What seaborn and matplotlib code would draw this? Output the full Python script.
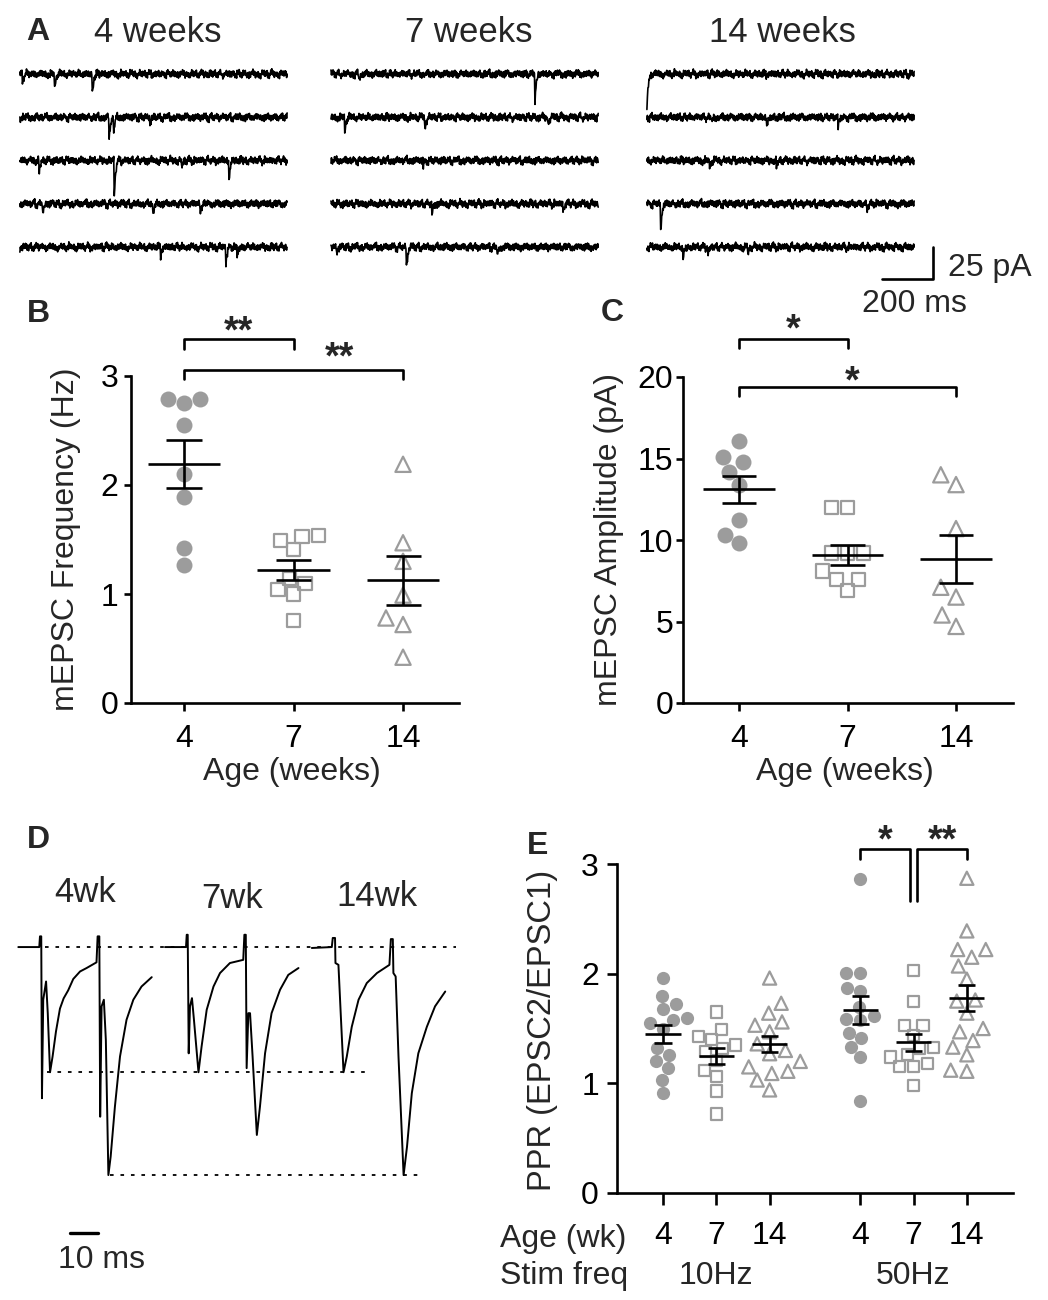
'''
mEPSC e PPR: pannelli A-E
'''

import numpy as np
import pandas as pd
import matplotlib
matplotlib.use('Agg')
import matplotlib.pyplot as plt
import seaborn as sns

sns.set_style('ticks')
plt.rcParams['font.family'] = ['Liberation Sans', 'DejaVu Sans']
plt.rcParams['font.size'] = 23
plt.rcParams['axes.linewidth'] = 1.9
plt.rcParams['xtick.major.width'] = 1.9
plt.rcParams['ytick.major.width'] = 1.9
plt.rcParams['xtick.color'] = 'black'
plt.rcParams['ytick.color'] = 'black'
plt.rcParams['axes.edgecolor'] = 'black'

#%% Data

ages = ['4', '7', '14']

# B - mEPSC frequency (Hz)
freq_4wk = [2.79, 2.75, 2.79, 2.55, 2.10, 1.89, 1.42, 1.27]
freq_7wk = [1.53, 1.41, 1.49, 1.54, 1.14, 1.04, 1.00, 1.10, 0.76]
freq_14wk = [2.19, 1.47, 1.30, 0.99, 0.78, 0.72, 0.42]

# C - mEPSC amplitude (pA)
amp_4wk = [16.1, 15.1, 14.8, 14.2, 13.4, 11.2, 10.3, 9.8]
amp_7wk = [12.0, 12.0, 9.2, 9.2, 9.2, 7.6, 7.6, 8.1, 6.9]
amp_14wk = [14.0, 13.4, 10.7, 7.1, 6.5, 5.4, 4.7]

# E - paired pulse ratio (EPSC2/EPSC1)
stim_freqs = ['10Hz', '50Hz']
ppr_10hz_4wk = [1.96, 1.80, 1.72, 1.68, 1.60, 1.58, 1.55, 1.50, 1.32, 1.26, 1.20, 1.14, 1.03, 0.91]
ppr_10hz_7wk = [1.65, 1.49, 1.43, 1.40, 1.35, 1.32, 1.29, 1.21, 1.12, 1.06, 0.93, 0.72]
ppr_10hz_14wk = [1.96, 1.73, 1.64, 1.56, 1.53, 1.47, 1.36, 1.30, 1.27, 1.20, 1.15, 1.11, 1.09, 1.03, 0.94]
ppr_50hz_4wk = [2.86, 2.01, 2.01, 1.84, 1.87, 1.70, 1.61, 1.59, 1.58, 1.46, 1.41, 1.33, 1.24, 0.84]
ppr_50hz_7wk = [2.03, 1.75, 1.53, 1.53, 1.44, 1.33, 1.32, 1.26, 1.24, 1.18, 1.15, 1.15, 0.98]
ppr_50hz_14wk = [2.87, 2.39, 2.22, 2.22, 2.15, 2.07, 1.95, 1.75, 1.76, 1.64, 1.50, 1.47, 1.39, 1.33, 1.26, 1.11, 1.12]

# A - mEPSC events (row, time in ms, amplitude in pA)
ev4_row = [0, 0, 0, 1, 1, 1, 2, 2, 2, 2, 3, 3, 3, 4, 4, 4]
ev4_t = [10, 137, 285, 350, 368, 510, 76, 370, 635, 820, 91, 522, 706, 553, 808, 853]
ev4_amp = [6, 12, 16, 18, 12, 5, 9, 27, 6, 14, 8, 9, 6, 6, 13, 8]

ev7_row = [0, 0, 1, 1, 1, 2, 3, 3, 4, 4, 4]
ev7_t = [111, 800, 55, 369, 851, 362, 397, 910, 22, 297, 652]
ev7_amp = [5, 21, 12, 9, 5, 5, 9, 6, 5, 16, 8]

ev14_row = [0, 1, 1, 1, 2, 2, 3, 3, 4, 4, 4]
ev14_t = [0, 254, 470, 750, 247, 509, 55, 862, 143, 240, 397]
ev14_amp = [27, 5, 9, 8, 5, 5, 22, 6, 10, 6, 6]

# mEPSC shape (per 2 ms sample) and baseline noise snippets (pA)
ev_kernel = [-1.0, -0.72, -0.5, -0.34, -0.22, -0.13, -0.07, -0.03]
noise_fast = [0.9, -1.4, 1.8, -0.6, 2.1, -1.9, 0.3, 1.2, -2.3, 0.7, -0.2, 1.6, -1.1,
              2.4, -0.8, -1.7, 1.0, 0.2, -2.0, 1.5, -0.5, 0.8, -1.3, 2.0, -0.1, -1.6,
              1.3, 0.5, -2.2, 1.1, -0.9, 1.9, -0.4, -1.2, 0.6, 1.7, -1.5]
noise_slow = [0.4, -0.7, 0.9, -0.3, 0.6, -1.0, 0.2, 0.8, -0.5, -0.9, 0.7, 0.1,
              -0.6, 1.0, -0.2, -0.8, 0.5, 0.3, -0.4, 0.9, -1.1, 0.6, -0.1]

# D - evoked EPSC pairs (time ms, current normalised to the largest EPSC2)
d4_t = [0, 7.4, 7.65, 8.1, 8.35, 8.8, 9.8, 10.4, 11.2, 12.1, 13.3, 14.7, 16.0, 17.6, 19.4,
        21.8, 24.1, 27.6, 28.0, 28.6, 28.9, 29.4, 30.2, 30.9, 31.8, 32.6, 34.1, 35.9,
        38.2, 40.6, 43.5, 47.1]
d4_i = [0, 0, 0.047, 0.047, -0.663, -0.231, -0.151, -0.29, -0.549, -0.48, -0.37, -0.27,
        -0.225, -0.19, -0.14, -0.107, -0.092, -0.067, 0.047, 0.047, -0.744, -0.26, -0.231,
        -0.407, -1.0, -0.919, -0.70, -0.48, -0.319, -0.231, -0.173, -0.132]
d7_t = [0, 7.4, 7.65, 8.0, 8.35, 8.8, 9.5, 10.2, 11.8, 12.9, 14.7, 17.1, 19.4, 22.9, 27.6,
        28.0, 28.5, 28.8, 29.4, 30.0, 30.9, 32.4, 33.5, 35.3, 37.6, 40.6, 43.5, 47.1]
d7_i = [0, 0, 0.054, 0.054, -0.466, -0.26, -0.224, -0.319, -0.549, -0.436, -0.275, -0.173,
        -0.114, -0.07, -0.056, 0.054, 0.054, -0.531, -0.29, -0.29, -0.48, -0.824, -0.70,
        -0.466, -0.29, -0.187, -0.122, -0.092]
d14_t = [0, 7.06, 7.4, 8.2, 8.35, 9.4, 10.2, 11.2, 12.35, 14.1, 16.5, 19.4, 23.0, 27.4,
         27.9, 28.6, 28.8, 29.6, 30.6, 32.4, 33.6, 35.3, 37.6, 40.6, 43.5, 47.1]
d14_i = [-0.004, 0, 0.04, 0.04, -0.07, -0.078, -0.29, -0.549, -0.48, -0.35, -0.231, -0.158,
         -0.114, -0.078, 0.035, 0.035, -0.114, -0.129, -0.48, -1.0, -0.876, -0.641, -0.466,
         -0.35, -0.26, -0.195]
d_levels = [0, -0.549, -1.0]

#%% Figure

W, H = 1048, 1300
fig = plt.figure(figsize=(W / 100, H / 100), dpi=100)


def px_axes(x0, y0, x1, y1):
    return fig.add_axes([x0 / W, 1 - y1 / H, (x1 - x0) / W, (y1 - y0) / H])


def fig_text(x, y, s, **kw):
    fig.text(x / W, 1 - y / H, s, **kw)


for letter, x, y in [('A', 38, 32), ('B', 38, 314), ('C', 612, 313), ('D', 38, 840), ('E', 538, 846)]:
    fig_text(x, y, letter, fontsize=23, fontweight='bold', ha='center', va='center')

grey = '#9c9c9c'
styles = {'4': ('o', grey, 0.0), '7': ('s', 'none', 1.6), '14': ('^', 'none', 1.6)}


def swarm(ax, df, xcol, ycol, sizes, native=False):
    for age in ages:
        mk, fc, lw = styles[age]
        sub = df[df['age'] == age]
        kw = dict(data=sub, x=xcol, y=ycol, ax=ax, marker=mk, size=sizes[age],
                  color=grey, edgecolor=grey, linewidth=lw, facecolor=fc, warn_thresh=1)
        if native:
            sns.swarmplot(native_scale=True, orient='x', **kw)
        else:
            sns.swarmplot(order=ages, **kw)


def mean_sem(ax, df, key, ycol, positions, half=0.33, cap=0.16):
    stats = df.groupby(key, sort=False)[ycol].agg(['mean', 'sem'])
    for k, pos in positions.items():
        m, s = stats.loc[k, 'mean'], stats.loc[k, 'sem']
        ax.hlines(m, pos - half, pos + half, color='k', lw=1.9, zorder=6)
        ax.vlines(pos, m - s, m + s, color='k', lw=1.9, zorder=6)
        ax.hlines([m - s, m + s], pos - cap, pos + cap, color='k', lw=1.9, zorder=6)


def stars(ax, x, y, label):
    ax.text(x, y, label, ha='center', va='baseline', fontsize=27, fontweight='bold')


def bracket(ax, x0, x1, y, drop, label, tx, ty):
    ax.plot([x0, x0, x1, x1], [y - drop, y, y, y - drop], color='k', lw=1.9, clip_on=False)
    stars(ax, tx, ty, label)


#%% A - mEPSC traces

ax_a = px_axes(0, 50, 1048, 320)
ax_a.set_xlim(0, 4110)
ax_a.set_ylim(-192.2, 18.75)
ax_a.axis('off')

t_a = np.arange(0, 1050, 2)
col_start = [78, 1298, 2537]
row_gap = 33.8
k = 0
for col, (rows, times, amps) in enumerate([(ev4_row, ev4_t, ev4_amp),
                                           (ev7_row, ev7_t, ev7_amp),
                                           (ev14_row, ev14_t, ev14_amp)]):
    for r in range(5):
        idx = np.arange(len(t_a))
        trace = 1.2 * (np.take(noise_fast, (idx + 7 * k) % len(noise_fast))
                       + np.take(noise_slow, (idx // 6 + 5 * k) % len(noise_slow)))
        for rr, tt, aa in zip(rows, times, amps):
            if rr != r:
                continue
            i0 = tt // 2
            n = min(len(ev_kernel), len(t_a) - i0)
            trace[i0:i0 + n] += aa * np.array(ev_kernel[:n])
        sns.lineplot(x=t_a + col_start[col], y=trace - row_gap * r, ax=ax_a,
                     color='k', lw=1.2, sort=False, estimator=None)
        k += 1

for title, x in zip(['4 weeks', '7 weeks', '14 weeks'], [158, 469, 782]):
    fig_text(x, 33, title, fontsize=25, ha='center', va='center')

# scale bar 200 ms / 25 pA
ax_a.plot([3459, 3659, 3659], [-160.2, -160.2, -135.2], color='k', lw=1.9)
ax_a.text(3718, -151.6, '25 pA', fontsize=23, ha='left', va='center')
ax_a.text(3585, -179.5, '200 ms', fontsize=23, ha='center', va='center')

#%% B - frequency

df_b = pd.DataFrame({'age': ['4'] * len(freq_4wk) + ['7'] * len(freq_7wk) + ['14'] * len(freq_14wk),
                     'freq': freq_4wk + freq_7wk + freq_14wk})
ax_b = px_axes(131, 376, 459, 703)
swarm(ax_b, df_b, 'age', 'freq', {'4': 11.5, '7': 9.5, '14': 11})
mean_sem(ax_b, df_b, 'age', 'freq', {a: i for i, a in enumerate(ages)})
ax_b.set_xlim(-0.484, 2.511)
ax_b.set_ylim(0, 3)
ax_b.set_yticks([0, 1, 2, 3])
ax_b.set_xticks([0, 1, 2], ages)
ax_b.set_xlabel('Age (weeks)', fontsize=23)
ax_b.set_ylabel('mEPSC Frequency (Hz)', fontsize=23)
ax_b.xaxis.set_label_coords(0.49, -0.165)
ax_b.yaxis.set_label_coords(-0.153, 0.5)
ax_b.tick_params(axis='x', length=6, pad=9, labelsize=23)
ax_b.tick_params(axis='y', length=5, pad=4, labelsize=23)
sns.despine(ax=ax_b)
bracket(ax_b, 0, 1, 3.339, 0.09, '**', 0.5, 3.31)
bracket(ax_b, 0, 2, 3.055, 0.085, '**', 1.42, 3.07)

#%% C - amplitude

df_c = pd.DataFrame({'age': ['4'] * len(amp_4wk) + ['7'] * len(amp_7wk) + ['14'] * len(amp_14wk),
                     'amp': amp_4wk + amp_7wk + amp_14wk})
ax_c = px_axes(683, 377, 1013, 703)
swarm(ax_c, df_c, 'age', 'amp', {'4': 11.5, '7': 9.5, '14': 11})
mean_sem(ax_c, df_c, 'age', 'amp', {a: i for i, a in enumerate(ages)})
ax_c.set_xlim(-0.516, 2.525)
ax_c.set_ylim(0, 20)
ax_c.set_yticks([0, 5, 10, 15, 20])
ax_c.set_xticks([0, 1, 2], ages)
ax_c.set_xlabel('Age (weeks)', fontsize=23)
ax_c.set_ylabel('mEPSC Amplitude (pA)', fontsize=23)
ax_c.xaxis.set_label_coords(0.49, -0.165)
ax_c.yaxis.set_label_coords(-0.178, 0.5)
ax_c.tick_params(axis='x', length=6, pad=9, labelsize=23)
ax_c.tick_params(axis='y', length=5, pad=2, labelsize=23)
sns.despine(ax=ax_c)
bracket(ax_c, 0, 1, 22.33, 0.55, '*', 0.5, 22.27)
bracket(ax_c, 0, 2, 19.39, 0.56, '*', 1.04, 19.08)

#%% D - evoked EPSCs

ax_d = px_axes(0, 870, 480, 1290)
ax_d.set_xlim(-6.46, 162.97)
ax_d.set_ylim(-1.504, 0.338)
ax_d.axis('off')
shift = [0, 51.8, 103.6]
for tt, ii, off in zip([d4_t, d7_t, d14_t], [d4_i, d7_i, d14_i], shift):
    sns.lineplot(x=np.array(tt) + off, y=ii, ax=ax_d, color='k', lw=1.4,
                 sort=False, estimator=None)
for lev, x0, x1 in zip(d_levels, [9.4, 10.1, 32.4], [154.6, 122.4, 142.8]):
    ax_d.plot([x0, x1], [lev, lev], color='k', lw=1.3, linestyle=(0, (2.0, 3.8)))
for lab, x, y in [('4wk', 85, 893), ('7wk', 232, 898), ('14wk', 377, 896)]:
    fig_text(x, y, lab, fontsize=25, ha='center', va='center')
ax_d.plot([18.3, 28.3], [-1.254, -1.254], color='k', lw=2.4)
ax_d.text(29.5, -1.373, '10 ms', fontsize=23, ha='center', va='center')

#%% E - PPR

e_pos = {('10Hz', '4'): 0, ('10Hz', '7'): 1, ('10Hz', '14'): 2,
         ('50Hz', '4'): 3.7, ('50Hz', '7'): 4.7, ('50Hz', '14'): 5.7}
e_vals = {('10Hz', '4'): ppr_10hz_4wk, ('10Hz', '7'): ppr_10hz_7wk, ('10Hz', '14'): ppr_10hz_14wk,
          ('50Hz', '4'): ppr_50hz_4wk, ('50Hz', '7'): ppr_50hz_7wk, ('50Hz', '14'): ppr_50hz_14wk}
rows = []
for (fq, age), vals in e_vals.items():
    for v in vals:
        rows.append({'stim': fq, 'age': age, 'pos': e_pos[(fq, age)], 'ppr': v})
df_e = pd.DataFrame(rows)

ax_e = px_axes(617, 864, 1013, 1193)
swarm(ax_e, df_e, 'pos', 'ppr', {'4': 9.5, '7': 8, '14': 9.5}, native=True)
mean_sem(ax_e, df_e, 'pos', 'ppr', {p: p for p in e_pos.values()})
ax_e.set_xlim(-0.863, 6.566)
ax_e.set_ylim(0, 3)
ax_e.set_yticks([0, 1, 2, 3])
ax_e.set_xticks(list(e_pos.values()), [a for (_, a) in e_pos.keys()])
ax_e.set_xlabel('')
ax_e.set_ylabel('PPR (EPSC2/EPSC1)', fontsize=23.5)
ax_e.yaxis.set_label_coords(-0.149, 0.495)
ax_e.tick_params(axis='x', length=8.5, pad=12, labelsize=23)
ax_e.tick_params(axis='y', length=7, pad=6, labelsize=23)
sns.despine(ax=ax_e)
fig_text(500, 1239, 'Age (wk)', fontsize=23, ha='left', va='center')
fig_text(500, 1276, 'Stim freq', fontsize=23, ha='left', va='center')
for fq, x in zip(stim_freqs, [1, 4.7]):
    ax_e.text(x, -0.252, fq, fontsize=23, ha='center', va='center',
              transform=ax_e.get_xaxis_transform())

# significance: 4 vs 7 and 7 vs 14 wk at 50 Hz
ax_e.plot([3.7, 3.7, 4.63, 4.63], [3.047, 3.136, 3.136, 2.66], color='k', lw=1.9, clip_on=False)
ax_e.plot([4.77, 4.77, 5.7, 5.7], [2.66, 3.136, 3.136, 3.047], color='k', lw=1.9, clip_on=False)
stars(ax_e, 4.17, 3.11, '*')
stars(ax_e, 5.24, 3.11, '**')

fig.savefig('out.png', dpi=100)
